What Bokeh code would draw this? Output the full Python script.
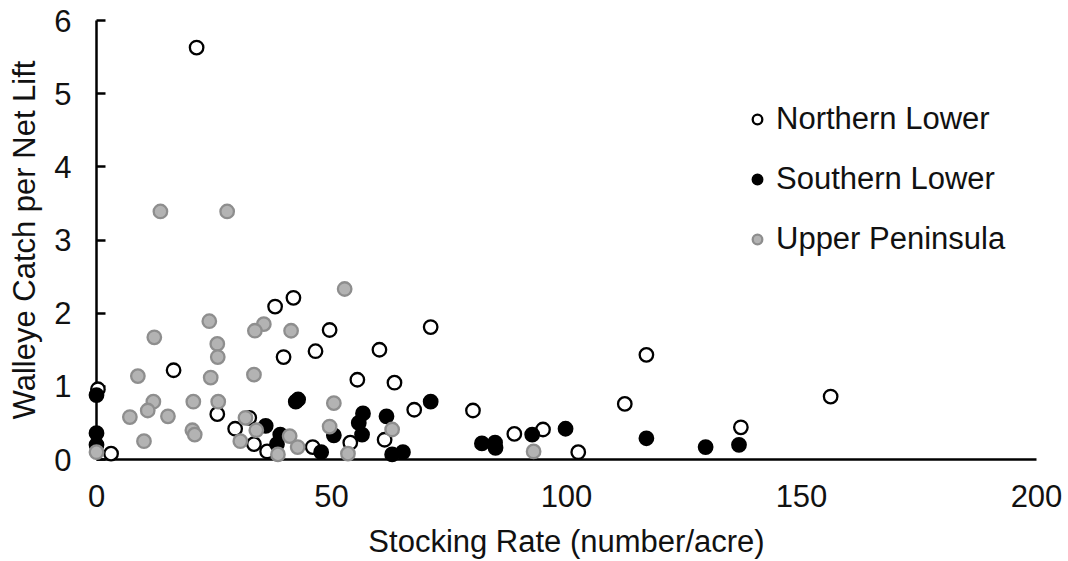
from bokeh.plotting import figure
from bokeh.models import Range1d, Legend, LegendItem, FixedTicker
from bokeh.embed import file_html
from bokeh.resources import INLINE

# Northern Lower (open circles)
north_x = [21.3, 38.0, 41.9, 49.6, 46.6, 39.8, 60.2, 71.1, 55.5, 63.4, 16.4, 0.3,
           67.6, 80.1, 112.4, 117.0, 156.2, 137.1, 95.0, 88.9, 102.5, 25.7, 29.5,
           33.5, 36.3, 3.1, 46.0, 54.0, 61.3, 32.5]
north_y = [5.63, 2.09, 2.21, 1.77, 1.48, 1.40, 1.50, 1.81, 1.09, 1.05, 1.22, 0.96,
           0.68, 0.67, 0.76, 1.43, 0.86, 0.44, 0.41, 0.35, 0.10, 0.62, 0.42,
           0.21, 0.11, 0.08, 0.17, 0.23, 0.27, 0.57]

# Southern Lower (black)
south_x = [0.0, 0.0, 0.0, 36.0, 39.1, 38.4, 42.4, 42.9, 50.5, 56.7, 55.8, 56.5,
           61.7, 47.8, 62.9, 65.2, 71.1, 82.0, 84.8, 84.9, 92.7, 99.8, 117.0,
           129.6, 136.7]
south_y = [0.88, 0.36, 0.20, 0.46, 0.34, 0.21, 0.79, 0.82, 0.33, 0.63, 0.50, 0.34,
           0.59, 0.10, 0.07, 0.10, 0.79, 0.22, 0.23, 0.16, 0.34, 0.42, 0.29,
           0.17, 0.20]

# Upper Peninsula (gray)
upper_x = [13.6, 27.8, 52.8, 24.0, 12.3, 35.6, 33.7, 41.4, 25.7, 25.8, 8.8, 24.3,
           33.5, 12.1, 10.9, 7.1, 15.2, 20.6, 25.9, 50.5, 20.4, 20.9, 10.1, 31.7,
           34.0, 30.6, 41.1, 42.8, 38.6, 49.6, 62.9, 53.5, 93.0, 0.0]
upper_y = [3.39, 3.39, 2.33, 1.89, 1.67, 1.85, 1.76, 1.76, 1.58, 1.40, 1.14, 1.12,
           1.16, 0.79, 0.67, 0.58, 0.59, 0.79, 0.79, 0.77, 0.40, 0.34, 0.25, 0.57,
           0.40, 0.25, 0.32, 0.17, 0.07, 0.45, 0.41, 0.08, 0.11, 0.10]

x_ticks = [0, 50, 100, 150, 200]
y_ticks = [0, 1, 2, 3, 4, 5, 6]

FONT = "Liberation Sans"
TXT = "#111111"
FS = "31px"

p = figure(width=1068, height=561, output_backend="svg", toolbar_location=None,
           x_range=Range1d(0, 200), y_range=Range1d(0, 6),
           min_border_left=96, min_border_right=32, min_border_top=20,
           min_border_bottom=101)
p.xgrid.visible = False
p.ygrid.visible = False
p.outline_line_color = None
p.background_fill_color = "white"

p.xaxis.ticker = FixedTicker(ticks=x_ticks)
p.yaxis.ticker = FixedTicker(ticks=y_ticks)
for ax in (p.xaxis, p.yaxis):
    ax.minor_tick_line_color = None
    ax.axis_line_color = "black"
    ax.axis_line_width = 2.5
    ax.major_tick_line_color = "black"
    ax.major_tick_line_width = 2.5
    ax.major_label_text_font = FONT
    ax.major_label_text_font_size = FS
    ax.major_label_text_color = TXT
    ax.axis_label_text_font = FONT
    ax.axis_label_text_font_size = FS
    ax.axis_label_text_font_style = "normal"
    ax.axis_label_text_color = TXT

p.xaxis.major_tick_in = 0
p.xaxis.major_tick_out = 0
p.xaxis.major_label_standoff = 25
p.xaxis.axis_label = "Stocking Rate (number/acre)"
p.xaxis.axis_label_standoff = 14

p.yaxis.major_tick_in = 9
p.yaxis.major_tick_out = 0
p.yaxis.major_label_standoff = 25
p.yaxis.axis_label = "Walleye Catch per Net Lift"
p.yaxis.axis_label_standoff = 9

r_n = p.scatter(north_x, north_y, size=13.5, marker="circle", fill_color="white",
                line_color="black", line_width=2.3, level="overlay")
r_s = p.scatter(south_x, south_y, size=13.5, marker="circle", fill_color="black",
                line_color="black", line_width=2.3, level="overlay")
r_u = p.scatter(upper_x, upper_y, size=13.5, marker="circle", fill_color="#B3B3B3",
                line_color="#8E8E8E", line_width=2.3, level="overlay")

legend = Legend(items=[LegendItem(label="Northern Lower", renderers=[r_n]),
                       LegendItem(label="Southern Lower", renderers=[r_s]),
                       LegendItem(label="Upper Peninsula", renderers=[r_u])],
                location=(649, 202), padding=0, margin=0, spacing=24,
                glyph_width=24, glyph_height=36, label_height=36,
                label_standoff=7, border_line_alpha=0, background_fill_alpha=0,
                label_text_font=FONT, label_text_font_size=FS,
                label_text_color=TXT)
p.add_layout(legend)

open("out.html", "w").write(file_html(p, INLINE))
